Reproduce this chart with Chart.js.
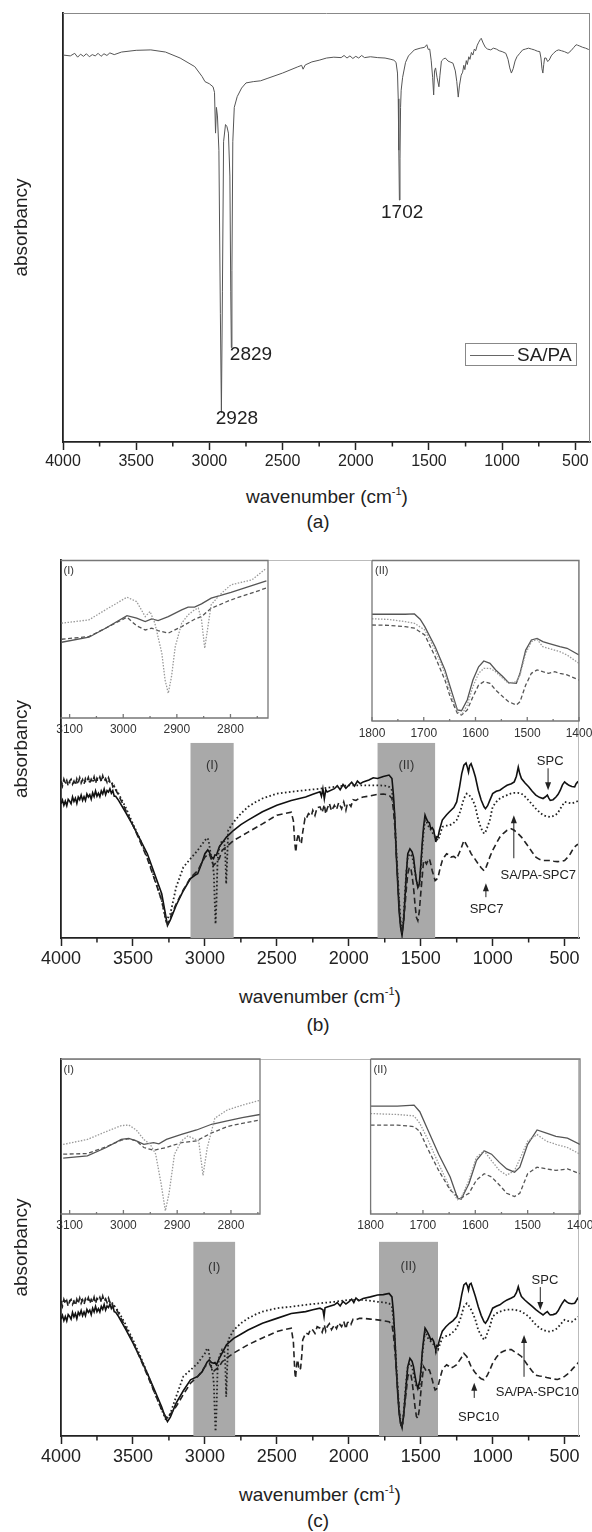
<!DOCTYPE html>
<html>
<head>
<meta charset="utf-8">
<script src="https://cdn.jsdelivr.net/npm/chart.js@4.4.0/dist/chart.umd.min.js"></script>
<style>
  body { margin: 0; background: #fff; font-family: "Liberation Sans", Arial, Helvetica, sans-serif; }
  #page { position: relative; width: 592px; height: 1532px; overflow: hidden; background: #fff; }
  .box { position: absolute; }
  .box canvas { display: block; }
  .xt { position: absolute; text-align: center; font-size: 19px; line-height: 22px; color: #222; white-space: nowrap; }
  .sup { font-size: 11px; position: relative; top: -8px; }
  .leg { position: absolute; left: 465px; top: 343px; width: 110px; height: 21px; border: 1px solid #888;
         font-size: 19px; line-height: 21px; color: #222; white-space: nowrap; }
  .legline { display: inline-block; width: 44px; border-top: 1px solid #666; vertical-align: middle; margin: 0 3px 0 4px; }
</style>
</head>
<body>
<div id="page">
  <div class="box" style="left:0;top:0"><canvas id="cA" width="592" height="480"></canvas></div>
  <div class="leg"><span class="legline"></span>SA/PA</div>
  <div class="xt" style="left:63px;width:528px;top:486px">wavenumber (cm<span class="sup">-1</span>)</div>
  <div class="xt" style="left:63px;width:510px;top:511px">(a)</div>

  <div class="box" style="left:0;top:540px"><canvas id="cB" width="592" height="440"></canvas></div>
  <div class="box" style="left:40px;top:550px"><canvas id="cB1" width="240" height="200"></canvas></div>
  <div class="box" style="left:350px;top:550px"><canvas id="cB2" width="262" height="200"></canvas></div>
  <div class="xt" style="left:61px;width:518px;top:986px">wavenumber (cm<span class="sup">-1</span>)</div>
  <div class="xt" style="left:61px;width:514px;top:1014px">(b)</div>

  <div class="box" style="left:0;top:1040px"><canvas id="cC" width="592" height="440"></canvas></div>
  <div class="box" style="left:40px;top:1049px"><canvas id="cC1" width="240" height="200"></canvas></div>
  <div class="box" style="left:350px;top:1049px"><canvas id="cC2" width="262" height="200"></canvas></div>
  <div class="xt" style="left:61px;width:518px;top:1484px">wavenumber (cm<span class="sup">-1</span>)</div>
  <div class="xt" style="left:61px;width:514px;top:1510px">(c)</div>
</div>

<script>
// tick labels
const mainTicks = [4000, 3500, 3000, 2500, 2000, 1500, 1000, 500];
const mainMinor = [3750, 3250, 2750, 2250, 1750, 1250, 750];
const insetITicks = [3100, 3000, 2900, 2800];
const insetIMinor = [3050, 2950, 2850, 2750];
const insetIITicks = [1800, 1700, 1600, 1500, 1400];
const insetIIMinor = [1750, 1650, 1550, 1450];

// (a) SA/PA spectrum, [wavenumber, absorbancy]
const specA = [[4000,90.2],[3950,90.0],[3920,90.6],[3900,89.7],[3880,90.4],[3860,89.9],[3840,90.5],[3820,89.8],[3800,90.3],[3780,90.0],[3760,90.6],[3740,89.9],[3720,90.5],[3700,90.1],[3680,90.7],[3650,90.3],[3600,90.9],[3500,91.3],[3400,91.4],[3300,90.9],[3200,89.5],[3100,87.5],[3050,85.2],[3030,84.0],[3000,83.5],[2975,82.8],[2965,81.5],[2958,72],[2952,78],[2945,76],[2935,68],[2925,30],[2918,6.8],[2911,35],[2903,70],[2890,74],[2880,73.5],[2870,72],[2860,62],[2854,35],[2850,22],[2846,40],[2840,70],[2830,78],[2810,80.5],[2780,82.5],[2750,83.7],[2700,84],[2650,84.2],[2600,84.8],[2500,86],[2400,87.4],[2370,87.8],[2360,86.9],[2345,87.9],[2300,88.6],[2250,89],[2200,89.5],[2150,89.7],[2100,89.6],[2080,90.1],[2060,89.5],[2040,90.0],[2020,89.4],[2000,89.9],[1980,89.5],[1960,90.1],[1940,89.6],[1900,89.8],[1850,89.6],[1800,89.5],[1760,89.2],[1740,89],[1725,88.5],[1715,86],[1710,80],[1706,68],[1702,56.4],[1698,66],[1694,78],[1690,82],[1680,85],[1660,88.5],[1640,90],[1600,91.4],[1560,91.8],[1530,92],[1515,92.6],[1505,91.5],[1495,91.6],[1485,89],[1475,85],[1468,80.9],[1462,86.5],[1455,87.2],[1445,85],[1432,82.8],[1425,85.5],[1415,88.8],[1400,89.3],[1388,89.5],[1370,88.8],[1350,88.5],[1336,88.3],[1320,86.5],[1310,84],[1300,80.4],[1292,83],[1280,85.5],[1270,86.2],[1262,87.8],[1255,86.8],[1245,88.9],[1238,88],[1228,89.8],[1220,89.2],[1210,90.8],[1200,90.2],[1190,91.6],[1181,91.2],[1170,92.5],[1160,93.2],[1150,93.8],[1143,94.1],[1130,93],[1115,92],[1100,91.6],[1078,91.4],[1060,91.8],[1040,91.6],[1020,91.2],[1000,91],[975,90.6],[960,89.2],[948,87.2],[937,86],[925,87],[912,88.8],[899,89.8],[880,90.6],[860,91.4],[840,91.6],[820,91.8],[800,91.6],[780,91.4],[760,91.1],[743,91],[735,89.5],[728,87],[722,86],[716,88],[710,89.5],[700,89.5],[690,88.7],[679,89],[665,90],[650,90.6],[630,91.2],[614,91.4],[595,91.2],[575,91],[550,90.6],[530,91.2],[510,92],[495,92.6],[485,92.5],[470,92.3],[450,92],[430,91.8],[410,91.5],[400,91.4]];
const peakLabelsA = [['2928', 2812, 5.5], ['2829', 2716, 20.3], ['1702', 1683, 53.4]];

// (b) SPC (solid), SA/PA-SPC7 (dotted), SPC7 (dashed)
const spcB = [[4000,35.5],[3990,36.5],[3980,35.1],[3970,36.2],[3960,35.0],[3950,36.7],[3940,36.2],[3930,35.5],[3920,37.3],[3910,36.1],[3900,37.0],[3890,35.6],[3880,37.3],[3870,36.6],[3860,37.8],[3850,36.4],[3840,37.4],[3830,36.4],[3820,38.1],[3810,37.3],[3800,37.9],[3790,36.7],[3780,38.4],[3770,37.4],[3760,38.9],[3750,37.5],[3740,38.3],[3730,37.4],[3720,38.9],[3710,38.1],[3700,39.4],[3690,37.9],[3680,39.0],[3670,38.6],[3660,39.5],[3650,38.3],[3640,39.0],[3630,37.5],[3620,37.5],[3600,36.4],[3550,33.2],[3500,29.8],[3450,26],[3400,22.3],[3350,17],[3300,11.7],[3275,6.5],[3260,3.3],[3240,4.8],[3200,8.6],[3150,12.5],[3100,15.7],[3070,16.6],[3050,17],[3020,20],[3000,22.3],[2980,23.3],[2970,22.8],[2955,21.5],[2940,21],[2930,22],[2920,21.9],[2900,24.1],[2850,26.7],[2800,28.5],[2750,30],[2700,31.2],[2600,33.4],[2500,35.1],[2400,36.4],[2300,37.3],[2250,38],[2200,38.7],[2190,37.5],[2180,39.5],[2170,36.8],[2160,39.2],[2150,38.6],[2100,39.5],[2080,40.3],[2060,39.2],[2040,40.6],[2020,39.6],[2000,40.4],[1980,41.2],[1960,40.2],[1940,41.5],[1920,40.8],[1900,41.3],[1860,41.8],[1830,42.4],[1800,42.2],[1760,42.7],[1720,43.1],[1700,42.2],[1690,38],[1680,32],[1670,22],[1660,14.4],[1650,7],[1640,2.9],[1630,0.7],[1620,4],[1610,10],[1600,17],[1590,22.3],[1575,23.6],[1560,22.8],[1550,21.4],[1540,18],[1530,15.2],[1520,13.4],[1510,14.3],[1500,19],[1490,24.9],[1480,29.5],[1470,32.5],[1460,31.5],[1450,30.7],[1440,30.5],[1430,28.9],[1420,29.2],[1410,28.5],[1400,26.5],[1395,25.4],[1388,26.8],[1380,26.7],[1370,28.5],[1350,31.2],[1320,32.6],[1300,33.4],[1270,34.5],[1250,36],[1240,38],[1230,40],[1215,43.5],[1200,45.7],[1185,46.3],[1175,45],[1168,43.9],[1160,45.6],[1150,46.1],[1135,44.5],[1120,42.6],[1100,39.1],[1080,36.5],[1060,34.7],[1050,34.2],[1035,35],[1020,36.4],[1000,38.2],[975,38.8],[950,39.1],[925,39.8],[900,40.4],[870,40.8],[850,41.3],[835,42.8],[822,45.2],[812,43.5],[800,42.2],[775,41],[750,40],[725,38.8],[700,37.8],[675,37.2],[650,36.9],[635,37.3],[620,37.8],[610,37],[600,36.4],[580,36.6],[560,37.3],[545,38],[530,39.1],[515,40.5],[500,41.3],[485,40.8],[470,40.4],[450,40.1],[430,40],[420,40.8],[410,41.3],[400,40.9]];
const mixB = [[4000,40.9],[3950,41.2],[3900,41],[3850,41.5],[3800,41.4],[3750,41.8],[3700,41.8],[3650,41.3],[3600,38.2],[3550,34.5],[3500,30.2],[3450,26],[3400,21.4],[3350,15.8],[3300,9.9],[3270,4.6],[3240,6.4],[3200,13.4],[3150,18.7],[3100,21],[3050,23.2],[3000,25.8],[2985,26.5],[2975,26],[2960,22.3],[2945,19.5],[2938,17],[2932,10],[2926,3.7],[2920,9],[2912,20.5],[2900,24],[2880,25.8],[2865,25.5],[2858,22],[2852,14.3],[2846,20],[2838,28.5],[2800,30.7],[2750,32.9],[2700,34.7],[2650,35.9],[2600,36.9],[2500,38.2],[2400,38.7],[2300,39.1],[2200,39.5],[2100,40],[2000,40.4],[1900,40.4],[1800,40.4],[1750,40.3],[1720,40],[1700,39.1],[1690,36],[1680,31.2],[1665,20],[1650,10],[1640,4.5],[1630,1.6],[1620,5],[1610,11.7],[1600,17.5],[1590,21.4],[1575,22.3],[1560,21.6],[1550,20],[1540,17.5],[1530,15.2],[1520,13.8],[1510,13.4],[1500,18],[1490,23.2],[1480,28],[1470,31.2],[1460,30.8],[1450,29.8],[1435,28.9],[1420,28],[1400,26.7],[1380,25.8],[1365,27.5],[1350,29.4],[1325,29.7],[1300,29.8],[1275,30.3],[1250,31.2],[1225,33.5],[1200,36.9],[1180,38.2],[1165,37.8],[1150,37.3],[1135,36.2],[1120,34.7],[1100,31.2],[1080,29],[1060,27.6],[1050,28],[1035,29.5],[1020,31.2],[1000,34.7],[975,36],[950,36.9],[925,37.4],[900,37.8],[875,38.2],[850,38.4],[825,38.4],[800,38.2],[775,37.4],[750,36.4],[725,35.3],[700,34.2],[675,33.3],[650,32.5],[625,32.2],[600,32],[575,32.3],[550,32.9],[525,34.5],[500,36],[475,35.8],[450,35.6],[425,35.9],[400,36.4]];
const spc7B = [[4000,41.5],[3990,40.2],[3980,42.0],[3970,40.9],[3960,41.7],[3950,40.2],[3940,41.5],[3930,42.0],[3920,40.7],[3910,41.5],[3900,40.4],[3890,42.1],[3880,41.1],[3870,42.4],[3860,41.0],[3850,41.9],[3840,40.7],[3830,42.2],[3820,41.5],[3810,42.5],[3800,41.0],[3790,42.0],[3780,41.3],[3770,42.6],[3760,40.9],[3750,42.3],[3740,41.7],[3730,42.6],[3720,41.3],[3710,42.9],[3700,41.6],[3690,42.2],[3680,41.2],[3670,42.4],[3660,41.3],[3650,41.6],[3640,40.0],[3630,40.3],[3620,39.2],[3600,37.8],[3550,33.8],[3500,29.8],[3450,25.5],[3400,21],[3350,15.5],[3300,9.9],[3275,5.5],[3260,3.7],[3240,5.5],[3200,9],[3150,12.7],[3100,16],[3050,17.8],[3020,20],[3000,21.4],[2970,22.3],[2955,20.8],[2940,19.2],[2930,19.6],[2915,20.3],[2900,21],[2880,23.2],[2850,24.1],[2800,25.8],[2750,26.9],[2700,28],[2600,30.2],[2500,32.5],[2450,32.9],[2400,33.3],[2385,31],[2375,25],[2368,22.7],[2360,26],[2350,27.6],[2340,25.5],[2330,24.9],[2320,28],[2305,31.5],[2300,31.2],[2280,32.9],[2260,32.3],[2250,33.8],[2235,32.4],[2220,34.5],[2200,34.7],[2185,33.2],[2170,35.3],[2160,32.8],[2150,34.2],[2135,35.6],[2120,33.6],[2100,35.1],[2085,34],[2070,35.8],[2050,34.2],[2035,36],[2020,33.8],[2010,35.5],[2000,35.6],[1985,34.8],[1970,36.6],[1950,36.4],[1925,37],[1900,37.3],[1850,37.6],[1800,38],[1760,38.1],[1720,37.8],[1700,36.9],[1690,34],[1680,29.4],[1665,19],[1650,8.2],[1640,3.5],[1630,1.2],[1620,4],[1610,8.2],[1600,13],[1590,17],[1580,18.5],[1570,18.7],[1560,16.5],[1550,13.4],[1540,9],[1530,5.5],[1520,4.6],[1510,7],[1500,11.7],[1490,16],[1480,20.5],[1470,20.2],[1460,19.6],[1450,20.5],[1440,21],[1430,19.5],[1420,17.8],[1410,16.5],[1400,15.2],[1390,15.5],[1380,16],[1365,18.5],[1350,20.5],[1335,21.5],[1320,22.3],[1305,22],[1290,21.4],[1270,21.6],[1250,21],[1235,22.3],[1220,23.6],[1200,25.8],[1190,25.2],[1180,24.5],[1165,23.5],[1150,22.3],[1125,21],[1100,19.6],[1080,18.6],[1060,17.8],[1050,18.3],[1035,19.8],[1020,21.4],[1000,23.2],[975,25],[950,26.7],[925,27.7],[900,28.5],[870,28.9],[850,28.5],[825,27.7],[800,26.7],[775,25.4],[750,24.1],[725,22.7],[700,21.4],[675,20.8],[650,20.5],[625,20.5],[600,20.5],[575,20.3],[550,20.2],[525,20.3],[500,20.5],[480,21.3],[460,22.3],[445,23.3],[430,24.1],[415,24.6],[400,24.9]];
const bandsB = [[3100, 2800, 51.6, '(I)', 45.7], [1800, 1400, 51.6, '(II)', 45.7]];
const notesB = [['SPC', 600, 46.6], ['SA/PA-SPC7', 683, 16.6], ['SPC7', 1042, 7.6]];
const arrowsB = [[615, 44.9, 39.1], [853, 21.1, 32.5], [1047, 10.8, 14.5]];

// (b) insets
const insB1Spc = [[3115,48.1],[3064,51.3],[3033,57],[2993,65],[2975,63.4],[2959,61.2],[2947,62.9],[2935,61.9],[2916,64.4],[2891,68.7],[2879,70.4],[2867,70.4],[2854,72.5],[2836,76.1],[2799,79.7],[2733,87.1]];
const insB1Spc7 = [[3115,50],[3064,51.7],[3033,57],[2993,64],[2975,58.5],[2959,55.9],[2947,57],[2935,55.5],[2916,53.9],[2891,58],[2867,62.7],[2854,64.4],[2836,69.7],[2799,75],[2733,82.5]];
const insB1Mix = [[3115,60.2],[3064,62.3],[3033,68.7],[2993,76.7],[2975,73.9],[2959,64.4],[2950,67.6],[2941,60.2],[2928,41.1],[2922,24.2],[2916,15.7],[2910,26.2],[2903,45.3],[2891,60.2],[2879,65.5],[2867,68.7],[2860,69.8],[2854,62.3],[2848,44.3],[2842,58.1],[2836,71.9],[2820,78.2],[2799,84.6],[2760,87.7],[2733,95.1]];
const insB2Spc = [[1800,66.5],[1768,66.5],[1736,66.5],[1718,66.7],[1707,63.4],[1698,58.8],[1678,46.3],[1659,31.8],[1649,21.4],[1635,6.9],[1627,6.4],[1616,13.1],[1605,25.5],[1594,33.8],[1584,37.4],[1572,35.9],[1561,31.8],[1547,27.6],[1536,23.9],[1521,23.5],[1514,29.7],[1503,44.2],[1492,50.5],[1481,51.5],[1470,49.5],[1459,48.4],[1437,46.3],[1423,45.3],[1400,41.1]];
const insB2Mix = [[1800,63.7],[1768,63.3],[1736,61.9],[1718,60.9],[1698,56.7],[1678,44.2],[1659,29.7],[1649,18.3],[1635,5.8],[1627,3.7],[1616,10],[1605,21.4],[1594,29.7],[1584,32.8],[1572,32.8],[1561,30.7],[1547,26.6],[1536,23.5],[1521,24.5],[1514,28.7],[1503,42.2],[1492,49.4],[1481,50.9],[1470,46.3],[1459,45.3],[1437,43.2],[1423,41.1],[1400,35.9]];
const insB2Spc7 = [[1800,59.8],[1768,59.6],[1736,58.8],[1718,57.8],[1698,53.6],[1678,40.1],[1659,25.5],[1649,15.1],[1635,4.8],[1627,3.7],[1616,6.9],[1605,15.1],[1594,22.4],[1584,24.5],[1572,23.5],[1561,19.3],[1547,15.1],[1536,12],[1521,10],[1514,12],[1503,22.4],[1492,29.7],[1481,31.8],[1470,30.7],[1459,29.7],[1447,30.7],[1437,29.7],[1423,28.7],[1400,25.5]];

// (c) SPC (solid), SA/PA-SPC10 (dotted), SPC10 (dashed)
const spcC = [[4000,31.0],[3990,32.0],[3980,30.6],[3970,31.7],[3960,30.5],[3950,32.2],[3940,31.7],[3930,31.0],[3920,32.8],[3910,31.6],[3900,32.5],[3890,31.1],[3880,32.8],[3870,32.1],[3860,33.3],[3850,31.9],[3840,32.9],[3830,31.9],[3820,33.6],[3810,32.8],[3800,33.4],[3790,32.2],[3780,33.9],[3770,32.9],[3760,34.4],[3750,33.0],[3740,33.8],[3730,32.9],[3720,34.4],[3710,33.6],[3700,34.9],[3690,33.4],[3680,34.5],[3670,34.1],[3660,35.0],[3650,33.8],[3640,34.5],[3630,33.0],[3620,32.8],[3600,31.7],[3550,28.3],[3500,24.7],[3450,20.8],[3400,16.6],[3350,12.2],[3300,7.7],[3275,5],[3260,3.8],[3240,5],[3200,8.7],[3150,12],[3100,14.9],[3050,15.8],[3020,17],[3000,18.4],[2985,19.6],[2970,20.2],[2955,19.5],[2940,19.3],[2930,19.5],[2920,18.9],[2900,20.6],[2850,24.2],[2800,25.9],[2750,27],[2700,28.1],[2600,29.9],[2500,31.2],[2400,32.5],[2300,33],[2250,33.5],[2200,33.9],[2180,33.5],[2172,31.7],[2165,34],[2150,34.2],[2100,34.8],[2080,35.4],[2060,34.5],[2040,35.7],[2020,35],[2000,35.6],[1980,36.3],[1965,35.4],[1950,36.6],[1930,35.9],[1900,36.5],[1850,36.9],[1800,37.4],[1760,37.5],[1720,37.8],[1700,36.9],[1690,33],[1680,26.3],[1670,18],[1660,11.3],[1650,6],[1640,3.3],[1630,2.4],[1620,5],[1610,9.5],[1600,14],[1590,18.4],[1575,20.6],[1560,19.8],[1550,18.4],[1540,16],[1530,13.9],[1520,12.6],[1505,14.9],[1495,19],[1490,22],[1480,25.5],[1470,28.6],[1460,28],[1450,27.3],[1440,26.5],[1430,25.5],[1420,25.8],[1410,25.1],[1400,23.5],[1395,22.9],[1388,24],[1380,23.8],[1370,25.5],[1350,27.8],[1325,29],[1300,29.9],[1275,30.6],[1250,31.7],[1240,32.8],[1230,34.3],[1215,37.5],[1200,40.1],[1185,40.6],[1175,39.8],[1168,38.7],[1160,40.2],[1150,40.5],[1135,38.8],[1120,37],[1100,34.3],[1080,32],[1060,30.3],[1050,29.9],[1035,30.8],[1020,32.1],[1000,33.9],[975,34.4],[950,34.8],[925,35.5],[900,36.1],[870,36.6],[850,37],[835,38],[822,39.6],[812,38.2],[800,37],[775,36],[750,35.2],[725,34.4],[700,33.5],[675,32.8],[660,32.4],[650,32.1],[635,32.6],[620,33],[610,32.5],[600,32.1],[580,32.2],[560,32.5],[545,33.2],[530,34.3],[515,35.3],[500,36.1],[485,35.6],[470,35.2],[450,35.1],[430,35.2],[420,35.8],[410,36.5],[400,36.1]];
const mixC = [[4000,35.6],[3950,35.9],[3900,35.7],[3850,36.2],[3800,36],[3750,36.3],[3700,36.1],[3650,35.6],[3600,33],[3550,29.5],[3500,25.5],[3450,21.3],[3400,16.6],[3350,11.6],[3300,6.9],[3270,4.2],[3240,6],[3200,10.4],[3150,15.8],[3100,17.5],[3050,19.3],[3000,21.9],[2985,23.3],[2975,22.8],[2960,19.3],[2945,16.5],[2938,14],[2932,7],[2926,1.2],[2920,6],[2912,17.5],[2900,21],[2880,22.9],[2865,22.5],[2858,19],[2852,10.4],[2846,17],[2838,25.5],[2800,28.1],[2750,29.9],[2700,31.2],[2650,32.2],[2600,33],[2500,33.9],[2400,34.3],[2300,34.8],[2200,35.2],[2100,35.6],[2000,36.1],[1900,36.1],[1800,35.6],[1750,35.4],[1720,35.2],[1700,34.3],[1690,31],[1680,25.5],[1665,16],[1650,6.9],[1640,4],[1630,2.4],[1620,5.5],[1610,10.4],[1600,15],[1590,18.4],[1575,19.3],[1560,18.3],[1550,16.6],[1540,14.8],[1530,13.1],[1520,12.5],[1510,12.2],[1500,16],[1490,21.1],[1480,24.5],[1470,27.7],[1460,27],[1450,26],[1435,25.3],[1420,24.7],[1400,23.8],[1380,22.9],[1365,24.5],[1350,26],[1325,26.5],[1300,26.8],[1275,27.6],[1250,28.6],[1225,31],[1200,34.3],[1180,35.2],[1165,34.5],[1150,33.5],[1135,32.3],[1120,30.8],[1100,28.1],[1080,26.7],[1060,25.5],[1050,26],[1035,27.5],[1020,29],[1000,31.7],[975,32.5],[950,33],[925,33.3],[900,33.5],[875,33.5],[850,33.5],[825,33.3],[800,33],[775,32.4],[750,31.7],[725,30.6],[700,29.5],[675,28.7],[650,28.1],[625,27.8],[600,27.7],[575,28],[550,28.6],[525,29.8],[500,30.8],[475,30.5],[450,30.3],[425,31],[400,31.7]];
const spc10C = [[4000,35.7],[3990,34.4],[3980,36.2],[3970,35.1],[3960,35.9],[3950,34.4],[3940,35.7],[3930,36.2],[3920,34.9],[3910,35.7],[3900,34.6],[3890,36.3],[3880,35.3],[3870,36.6],[3860,35.2],[3850,36.1],[3840,34.9],[3830,36.4],[3820,35.7],[3810,36.7],[3800,35.2],[3790,36.2],[3780,35.5],[3770,36.8],[3760,35.1],[3750,36.5],[3740,35.9],[3730,36.8],[3720,35.5],[3710,37.1],[3700,35.8],[3690,36.4],[3680,35.4],[3670,36.6],[3660,35.5],[3650,35.8],[3640,34.2],[3630,34.5],[3620,34.0],[3600,32.5],[3550,28.8],[3500,25],[3450,20.6],[3400,16.1],[3350,11.5],[3300,6.9],[3275,5.3],[3260,4.7],[3240,5.8],[3200,7.8],[3150,11],[3100,14],[3050,15.8],[3020,17.2],[3000,18.4],[2970,19.3],[2955,18.2],[2940,17.1],[2930,17.5],[2915,17.9],[2900,18.4],[2880,19.7],[2850,20.6],[2800,22],[2750,23.1],[2700,24.2],[2600,26],[2500,27.7],[2450,28.2],[2400,28.6],[2385,25],[2375,17],[2370,15.3],[2362,19],[2355,20.2],[2345,17.5],[2335,17.9],[2325,22],[2320,25.5],[2300,27.3],[2280,27],[2265,28.4],[2250,28.1],[2235,27.2],[2220,29],[2200,28.6],[2185,27.5],[2170,29.5],[2160,27.8],[2150,29],[2135,29.8],[2120,28.2],[2100,29.5],[2085,28.5],[2070,30],[2050,29],[2035,30.4],[2020,28.4],[2010,30],[2000,30.3],[1985,29.6],[1970,31],[1950,30.8],[1925,31.2],[1900,31.2],[1850,31],[1800,30.8],[1760,30.6],[1720,30.3],[1700,29.5],[1690,27],[1680,22.9],[1665,15],[1650,6.9],[1640,3.5],[1635,2],[1625,3.5],[1615,6.9],[1600,12],[1590,15.8],[1580,16.5],[1570,16.6],[1560,14.5],[1550,11.3],[1540,7.8],[1530,5.2],[1520,4.7],[1510,7],[1500,11.3],[1490,15],[1480,18.4],[1470,17.8],[1460,17.1],[1450,17.6],[1440,17.5],[1430,16.3],[1420,14.9],[1410,13.4],[1400,12.2],[1390,12.5],[1380,13.1],[1365,15.5],[1350,17.5],[1335,18.3],[1320,18.9],[1305,18.5],[1290,18],[1270,18.4],[1250,18.9],[1235,19.8],[1220,20.6],[1200,21.9],[1190,21.5],[1180,21.1],[1165,19.8],[1150,18.4],[1125,17],[1100,15.8],[1080,15.2],[1060,14.9],[1050,15.3],[1035,16.3],[1020,17.5],[1000,19.3],[975,20.8],[950,22],[925,22.5],[900,22.9],[870,22.9],[850,22.4],[825,21.8],[800,21.1],[775,19.8],[750,18.4],[725,17.2],[700,16.1],[675,15.9],[650,15.8],[625,15.5],[600,15.3],[575,15.1],[550,15],[525,15.3],[500,15.8],[480,16.4],[460,17.1],[445,17.8],[430,18.4],[415,19],[400,19.7]];
const bandsC = [[3080, 2790, 51.5, '(I)', 44.6], [1790, 1380, 51.5, '(II)', 45]];
const notesC = [['SPC', 637, 41.4], ['SA/PA-SPC10', 690, 11.5], ['SPC10', 1097, 5]];
const arrowsC = [[669, 39.5, 33.4], [782, 15.7, 26.8], [1128, 10.1, 14.1]];

// (c) insets
const insC1Spc = [[3112,36],[3067,37.5],[3032,42.9],[3004,48.1],[2990,48.8],[2976,47.2],[2962,44.9],[2944,46],[2934,45.3],[2920,48.1],[2892,51.3],[2864,54.2],[2836,57.9],[2807,60.1],[2779,62.2],[2746,64.2]];
const insC1Spc10 = [[3112,38.6],[3067,39],[3032,43.4],[3004,47.6],[2990,48.6],[2976,47.2],[2962,42.9],[2944,41.1],[2934,41.9],[2920,42.9],[2892,46],[2864,47.2],[2836,52.3],[2807,56.4],[2779,58.5],[2746,60.6]];
const insC1Mix = [[3112,44.9],[3067,48.1],[3032,53.2],[3004,57],[2990,57.4],[2976,54.2],[2962,48.1],[2950,44.9],[2940,38.6],[2930,19.7],[2922,2],[2915,13.6],[2905,38.6],[2892,47.2],[2880,50.3],[2860,47.2],[2852,24.9],[2844,42.9],[2830,61.8],[2807,67.1],[2779,70.2],[2746,73.4]];
const insC2Spc = [[1800,69.6],[1749,69.6],[1717,70.2],[1706,66],[1692,55.3],[1670,38.6],[1648,23.9],[1634,10.3],[1627,9.6],[1612,19.7],[1598,34.4],[1583,40.7],[1569,38.6],[1554,33.3],[1540,29.1],[1525,27],[1515,30.2],[1500,44.9],[1482,54.2],[1464,52.2],[1446,50.1],[1424,49],[1400,44.9]];
const insC2Mix = [[1800,64.8],[1749,64.2],[1717,63.3],[1706,58.5],[1692,49],[1670,32.3],[1648,16.6],[1634,9.2],[1627,10.3],[1612,21.8],[1598,36.5],[1583,40.7],[1569,34.4],[1554,28.1],[1540,25],[1525,28.1],[1515,35.4],[1500,47],[1482,51.2],[1464,47],[1446,44.9],[1424,42.9],[1400,38.6]];
const insC2Spc10 = [[1800,57.4],[1749,57.4],[1717,56.4],[1706,53.2],[1692,42.9],[1670,28.1],[1648,15.5],[1634,11.3],[1627,10.3],[1612,13.4],[1598,21.8],[1583,26],[1569,23.9],[1554,18.7],[1540,13.4],[1525,11.3],[1515,13.4],[1500,26],[1482,30.2],[1464,29.1],[1446,28.1],[1424,29.1],[1400,26]];

const FONT = '"Liberation Sans", Arial, Helvetica, sans-serif';
Chart.defaults.font.family = FONT;
Chart.defaults.color = '#222';

// line styles
const STY = {
  a:     { borderColor: '#555', borderWidth: 1 },
  solid: { borderColor: '#111', borderWidth: 1.6 },
  dot:   { borderColor: '#222', borderWidth: 1.8, borderDash: [1.6, 2.4] },
  dash:  { borderColor: '#222', borderWidth: 1.6, borderDash: [6, 3.5] },
  iSolid:{ borderColor: '#555', borderWidth: 1.3 },
  iDot:  { borderColor: '#9a9a9a', borderWidth: 1.3, borderDash: [1.5, 1.5] },
  iDash: { borderColor: '#555', borderWidth: 1.3, borderDash: [4, 2.5] }
};

function lineSet(arr, style) {
  return Object.assign({
    data: arr.map(p => ({ x: p[0], y: p[1] })),
    pointRadius: 0, tension: 0, fill: false
  }, style);
}

// bands, frame, minor ticks, notes and arrows for the main plots
function deco(cfg) {
  return {
    id: 'deco',
    beforeDatasetsDraw(chart) {
      const { ctx, chartArea: a, scales: { x, y } } = chart;
      ctx.save();
      (cfg.bands || []).forEach(b => {
        const x1 = x.getPixelForValue(b[0]), x2 = x.getPixelForValue(b[1]);
        const yt = y.getPixelForValue(b[2]);
        ctx.fillStyle = '#a9a9a9';
        ctx.fillRect(Math.min(x1, x2), yt, Math.abs(x2 - x1), a.bottom - yt);
        ctx.fillStyle = '#333';
        ctx.font = '13px ' + FONT;
        ctx.textAlign = 'center';
        ctx.textBaseline = 'middle';
        ctx.fillText(b[3], (x1 + x2) / 2, y.getPixelForValue(b[4]));
      });
      ctx.restore();
    },
    afterDraw(chart) {
      const { ctx, chartArea: a, scales: { x, y } } = chart;
      ctx.save();
      // top and right frame
      ctx.strokeStyle = cfg.frame;
      ctx.lineWidth = 1;
      ctx.beginPath();
      ctx.moveTo(a.left, a.top + 0.5); ctx.lineTo(a.right, a.top + 0.5);
      ctx.moveTo(a.right - 0.5, a.top); ctx.lineTo(a.right - 0.5, a.bottom);
      ctx.stroke();
      // minor ticks
      ctx.strokeStyle = '#222';
      ctx.lineWidth = 1.5;
      ctx.beginPath();
      mainMinor.forEach(v => {
        const px = x.getPixelForValue(v);
        ctx.moveTo(px, a.bottom); ctx.lineTo(px, a.bottom + 4.5);
      });
      ctx.stroke();
      // notes
      ctx.fillStyle = '#222';
      ctx.font = cfg.noteSize + 'px ' + FONT;
      ctx.textAlign = 'center';
      ctx.textBaseline = 'middle';
      (cfg.notes || []).forEach(n => ctx.fillText(n[0], x.getPixelForValue(n[1]), y.getPixelForValue(n[2])));
      // arrows
      ctx.strokeStyle = '#222';
      ctx.lineWidth = 1;
      (cfg.arrows || []).forEach(r => {
        const px = x.getPixelForValue(r[0]);
        const y0 = y.getPixelForValue(r[1]), y1 = y.getPixelForValue(r[2]);
        const dir = y1 > y0 ? 1 : -1;
        ctx.beginPath();
        ctx.moveTo(px, y0); ctx.lineTo(px, y1 - dir * 6);
        ctx.stroke();
        ctx.beginPath();
        ctx.moveTo(px, y1); ctx.lineTo(px - 3, y1 - dir * 8); ctx.lineTo(px + 3, y1 - dir * 8);
        ctx.closePath(); ctx.fill();
      });
      ctx.restore();
    }
  };
}

function mainChart(id, sets, cfg) {
  return new Chart(document.getElementById(id), {
    type: 'line',
    data: { datasets: sets },
    options: {
      responsive: false, animation: false, devicePixelRatio: 1,
      layout: { padding: cfg.pad },
      plugins: { legend: { display: false }, tooltip: { enabled: false } },
      scales: {
        x: {
          type: 'linear', reverse: true, min: 400, max: 4000,
          afterBuildTicks: s => { s.ticks = mainTicks.map(v => ({ value: v })); },
          afterFit: s => { s.height = cfg.xh; },
          ticks: { autoSkip: false, maxRotation: 0, padding: 2, color: '#222',
                   font: { size: cfg.tickSize }, callback: v => String(v) },
          grid: { drawOnChartArea: false, drawTicks: true, tickLength: 8, tickWidth: 1.5, tickColor: '#222' },
          border: { color: '#222', width: 1.8 }
        },
        y: {
          min: 0, max: 100,
          afterFit: s => { s.width = cfg.yw; },
          ticks: { display: false },
          grid: { display: false, drawTicks: false },
          border: { color: '#222', width: 1.8 },
          title: { display: true, text: 'absorbancy', color: '#222', font: { size: 19 }, padding: { top: 10, bottom: 0 } }
        }
      }
    },
    plugins: [deco(cfg)]
  });
}

// box, inward ticks and corner label for the insets
function insetDeco(cfg) {
  return {
    id: 'insetDeco',
    afterDraw(chart) {
      const { ctx, chartArea: a, scales: { x } } = chart;
      ctx.save();
      ctx.strokeStyle = '#777';
      ctx.lineWidth = 1.3;
      ctx.beginPath();
      ctx.moveTo(a.left, a.top); ctx.lineTo(a.right, a.top); ctx.lineTo(a.right, a.bottom); ctx.lineTo(a.left, a.bottom);
      if (!cfg.noLeft) ctx.lineTo(a.left, a.top);
      ctx.stroke();
      ctx.beginPath();
      cfg.ticks.forEach(v => { const px = x.getPixelForValue(v); ctx.moveTo(px, a.bottom); ctx.lineTo(px, a.bottom - 4); });
      cfg.minor.forEach(v => { const px = x.getPixelForValue(v); ctx.moveTo(px, a.bottom); ctx.lineTo(px, a.bottom - 2); });
      ctx.stroke();
      ctx.fillStyle = '#333';
      ctx.font = '11px ' + FONT;
      ctx.textBaseline = 'top';
      ctx.textAlign = 'left';
      ctx.fillText(cfg.name, a.left + 3, a.top + 5);
      ctx.restore();
    }
  };
}

function insetChart(id, sets, cfg) {
  return new Chart(document.getElementById(id), {
    type: 'line',
    data: { datasets: sets },
    options: {
      responsive: false, animation: false, devicePixelRatio: 1,
      layout: { padding: cfg.pad },
      plugins: { legend: { display: false }, tooltip: { enabled: false } },
      scales: {
        x: {
          type: 'linear', reverse: true, min: cfg.min, max: cfg.max,
          afterBuildTicks: s => { s.ticks = cfg.ticks.map(v => ({ value: v })); },
          afterFit: s => { s.height = cfg.xh; },
          ticks: { autoSkip: false, maxRotation: 0, padding: cfg.lp, color: '#333',
                   font: { size: 12 }, callback: v => String(v) },
          grid: { display: false, drawTicks: false },
          border: { display: false }
        },
        y: { display: false, min: 0, max: 100 }
      }
    },
    plugins: [insetDeco(cfg)]
  });
}

// (a)
mainChart('cA', [lineSet(specA, STY.a)], {
  pad: { left: 0, top: 13, right: 2, bottom: 0 }, yw: 63, xh: 38, tickSize: 16,
  frame: '#888', notes: peakLabelsA, noteSize: 19
});

// (b)
mainChart('cB', [lineSet(spc7B, STY.dash), lineSet(mixB, STY.dot), lineSet(spcB, STY.solid)], {
  pad: { left: 0, top: 20, right: 13, bottom: 0 }, yw: 61, xh: 42, tickSize: 18,
  frame: '#bbb', bands: bandsB, notes: notesB, arrows: arrowsB, noteSize: 13
});
insetChart('cB1', [lineSet(insB1Mix, STY.iDot), lineSet(insB1Spc7, STY.iDash), lineSet(insB1Spc, STY.iSolid)], {
  pad: { left: 20.5, top: 10.5, right: 12, bottom: 0 }, xh: 32, lp: 4,
  min: 2730, max: 3117, ticks: insetITicks, minor: insetIMinor, name: '(I)', noLeft: true
});
insetChart('cB2', [lineSet(insB2Mix, STY.iDot), lineSet(insB2Spc7, STY.iDash), lineSet(insB2Spc, STY.iSolid)], {
  pad: { left: 22, top: 10.5, right: 33, bottom: 0 }, xh: 29, lp: 5,
  min: 1400, max: 1800, ticks: insetIITicks, minor: insetIIMinor, name: '(II)'
});

// (c)
mainChart('cC', [lineSet(spc10C, STY.dash), lineSet(mixC, STY.dot), lineSet(spcC, STY.solid)], {
  pad: { left: 0, top: 19, right: 13, bottom: 0 }, yw: 61, xh: 44, tickSize: 18,
  frame: '#bbb', bands: bandsC, notes: notesC, arrows: arrowsC, noteSize: 13
});
insetChart('cC1', [lineSet(insC1Mix, STY.iDot), lineSet(insC1Spc10, STY.iDash), lineSet(insC1Spc, STY.iSolid)], {
  pad: { left: 20.5, top: 10, right: 20, bottom: 0 }, xh: 35, lp: 4,
  min: 2746, max: 3117, ticks: insetITicks, minor: insetIMinor, name: '(I)', noLeft: true
});
insetChart('cC2', [lineSet(insC2Mix, STY.iDot), lineSet(insC2Spc10, STY.iDash), lineSet(insC2Spc, STY.iSolid)], {
  pad: { left: 20.6, top: 10, right: 32, bottom: 0 }, xh: 35, lp: 4,
  min: 1400, max: 1800, ticks: insetIITicks, minor: insetIIMinor, name: '(II)'
});
</script>
</body>
</html>
